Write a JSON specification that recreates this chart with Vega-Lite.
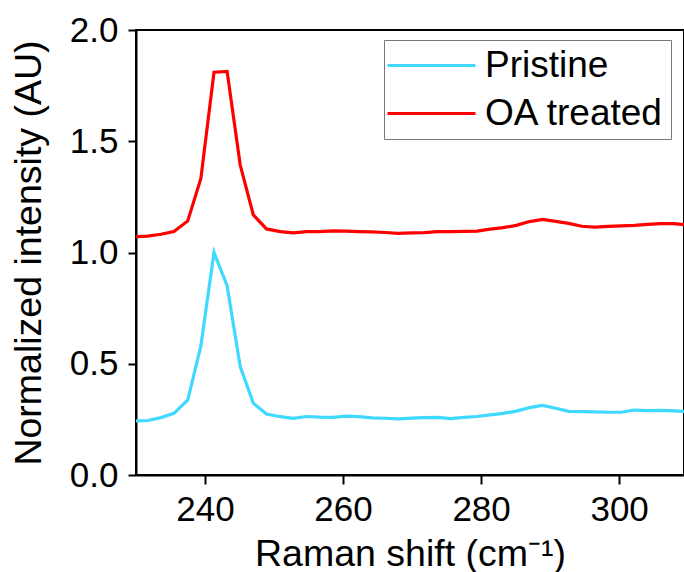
{
  "$schema": "https://vega.github.io/schema/vega-lite/v6.json",
  "width": 548,
  "height": 445,
  "autosize": {"type": "none"},
  "padding": {"left": 136, "top": 30, "right": 0, "bottom": 97},
  "background": "white",
  "config": {
    "view": {"stroke": "black", "strokeWidth": 2},
    "axis": {
      "labelFont": "Liberation Sans", "titleFont": "Liberation Sans",
      "labelFontSize": 35, "titleFontSize": 37.5, "titleFontWeight": "normal",
      "labelColor": "black", "titleColor": "black",
      "domainColor": "black",
      "domainWidth": 2, "grid": false,
      "labelOverlap": false, "labelFlush": false
    }
  },
  "data": {"values": [
    {"x": 229.8, "y": 0.243, "series": "Pristine"},
    {"x": 231.7, "y": 0.245, "series": "Pristine"},
    {"x": 233.6, "y": 0.258, "series": "Pristine"},
    {"x": 235.5, "y": 0.277, "series": "Pristine"},
    {"x": 237.5, "y": 0.337, "series": "Pristine"},
    {"x": 239.4, "y": 0.58, "series": "Pristine"},
    {"x": 241.3, "y": 1.0, "series": "Pristine"},
    {"x": 243.2, "y": 0.851, "series": "Pristine"},
    {"x": 245.1, "y": 0.487, "series": "Pristine"},
    {"x": 247.0, "y": 0.322, "series": "Pristine"},
    {"x": 248.9, "y": 0.274, "series": "Pristine"},
    {"x": 250.9, "y": 0.262, "series": "Pristine"},
    {"x": 252.8, "y": 0.255, "series": "Pristine"},
    {"x": 254.7, "y": 0.263, "series": "Pristine"},
    {"x": 256.6, "y": 0.26, "series": "Pristine"},
    {"x": 258.5, "y": 0.259, "series": "Pristine"},
    {"x": 260.4, "y": 0.265, "series": "Pristine"},
    {"x": 262.3, "y": 0.262, "series": "Pristine"},
    {"x": 264.2, "y": 0.257, "series": "Pristine"},
    {"x": 266.1, "y": 0.255, "series": "Pristine"},
    {"x": 268.0, "y": 0.252, "series": "Pristine"},
    {"x": 269.9, "y": 0.256, "series": "Pristine"},
    {"x": 271.8, "y": 0.258, "series": "Pristine"},
    {"x": 273.7, "y": 0.259, "series": "Pristine"},
    {"x": 275.6, "y": 0.253, "series": "Pristine"},
    {"x": 277.5, "y": 0.259, "series": "Pristine"},
    {"x": 279.4, "y": 0.263, "series": "Pristine"},
    {"x": 281.3, "y": 0.27, "series": "Pristine"},
    {"x": 283.2, "y": 0.277, "series": "Pristine"},
    {"x": 285.1, "y": 0.287, "series": "Pristine"},
    {"x": 287.0, "y": 0.303, "series": "Pristine"},
    {"x": 288.9, "y": 0.313, "series": "Pristine"},
    {"x": 290.8, "y": 0.3, "series": "Pristine"},
    {"x": 292.7, "y": 0.286, "series": "Pristine"},
    {"x": 294.6, "y": 0.285, "series": "Pristine"},
    {"x": 296.5, "y": 0.284, "series": "Pristine"},
    {"x": 298.4, "y": 0.282, "series": "Pristine"},
    {"x": 300.3, "y": 0.282, "series": "Pristine"},
    {"x": 302.2, "y": 0.292, "series": "Pristine"},
    {"x": 304.1, "y": 0.289, "series": "Pristine"},
    {"x": 306.0, "y": 0.29, "series": "Pristine"},
    {"x": 307.9, "y": 0.288, "series": "Pristine"},
    {"x": 309.8, "y": 0.285, "series": "Pristine"},
    {"x": 311.7, "y": 0.284, "series": "Pristine"},
    {"x": 229.8, "y": 1.071, "series": "OA treated"},
    {"x": 231.7, "y": 1.074, "series": "OA treated"},
    {"x": 233.6, "y": 1.082, "series": "OA treated"},
    {"x": 235.5, "y": 1.094, "series": "OA treated"},
    {"x": 237.5, "y": 1.142, "series": "OA treated"},
    {"x": 239.4, "y": 1.333, "series": "OA treated"},
    {"x": 241.3, "y": 1.81, "series": "OA treated"},
    {"x": 243.2, "y": 1.814, "series": "OA treated"},
    {"x": 245.1, "y": 1.393, "series": "OA treated"},
    {"x": 247.0, "y": 1.169, "series": "OA treated"},
    {"x": 248.9, "y": 1.106, "series": "OA treated"},
    {"x": 250.9, "y": 1.094, "series": "OA treated"},
    {"x": 252.8, "y": 1.088, "series": "OA treated"},
    {"x": 254.7, "y": 1.094, "series": "OA treated"},
    {"x": 256.6, "y": 1.094, "series": "OA treated"},
    {"x": 258.5, "y": 1.097, "series": "OA treated"},
    {"x": 260.4, "y": 1.096, "series": "OA treated"},
    {"x": 262.3, "y": 1.094, "series": "OA treated"},
    {"x": 264.2, "y": 1.093, "series": "OA treated"},
    {"x": 266.1, "y": 1.09, "series": "OA treated"},
    {"x": 268.0, "y": 1.086, "series": "OA treated"},
    {"x": 269.9, "y": 1.088, "series": "OA treated"},
    {"x": 271.8, "y": 1.089, "series": "OA treated"},
    {"x": 273.7, "y": 1.094, "series": "OA treated"},
    {"x": 275.6, "y": 1.094, "series": "OA treated"},
    {"x": 277.5, "y": 1.095, "series": "OA treated"},
    {"x": 279.4, "y": 1.096, "series": "OA treated"},
    {"x": 281.3, "y": 1.105, "series": "OA treated"},
    {"x": 283.2, "y": 1.112, "series": "OA treated"},
    {"x": 285.1, "y": 1.122, "series": "OA treated"},
    {"x": 287.0, "y": 1.139, "series": "OA treated"},
    {"x": 288.9, "y": 1.149, "series": "OA treated"},
    {"x": 290.8, "y": 1.14, "series": "OA treated"},
    {"x": 292.7, "y": 1.131, "series": "OA treated"},
    {"x": 294.6, "y": 1.118, "series": "OA treated"},
    {"x": 296.5, "y": 1.114, "series": "OA treated"},
    {"x": 298.4, "y": 1.117, "series": "OA treated"},
    {"x": 300.3, "y": 1.12, "series": "OA treated"},
    {"x": 302.2, "y": 1.122, "series": "OA treated"},
    {"x": 304.1, "y": 1.126, "series": "OA treated"},
    {"x": 306.0, "y": 1.13, "series": "OA treated"},
    {"x": 307.9, "y": 1.13, "series": "OA treated"},
    {"x": 309.8, "y": 1.124, "series": "OA treated"},
    {"x": 311.7, "y": 1.122, "series": "OA treated"}
  ]},
  "mark": {"type": "line", "strokeWidth": 3.2, "clip": true},
  "encoding": {
    "x": {
      "field": "x", "type": "quantitative",
      "scale": {"domain": [230, 309.4], "nice": false, "zero": false},
      "axis": {
        "orient": "bottom",
        "title": "Raman shift (cm⁻¹)",
        "values": [240, 260, 280, 300],
        "ticks": true, "tickSize": 9, "tickWidth": 2, "tickColor": "black",
        "labelPadding": 8,
        "titlePadding": 8
      }
    },
    "y": {
      "field": "y", "type": "quantitative",
      "scale": {"domain": [0, 2], "nice": false, "zero": false},
      "axis": {
        "orient": "left",
        "title": "Normalized intensity (AU)",
        "values": [0, 0.5, 1, 1.5, 2],
        "format": ".1f",
        "ticks": true, "tickSize": 8, "tickWidth": 2, "tickColor": "black",
        "labelPadding": 10,
        "titlePadding": 21
      }
    },
    "color": {
      "field": "series", "type": "nominal",
      "scale": {"domain": ["Pristine", "OA treated"], "range": ["#3fd9ff", "#ff0000"]},
      "legend": {
        "orient": "none", "legendX": 248, "legendY": 10, "direction": "vertical",
        "title": null,
        "symbolType": "M-4,0H4",
        "symbolSize": 484,
        "symbolStrokeWidth": 3.2,
        "symbolOffset": 22,
        "labelOffset": 35,
        "labelFontSize": 37,
        "labelLimit": 400,
        "labelColor": "black",
        "labelFont": "Liberation Sans",
        "padding": 7,
        "rowPadding": 10,
        "strokeColor": "#777777",
        "fillColor": "white"
      }
    }
  }
}
